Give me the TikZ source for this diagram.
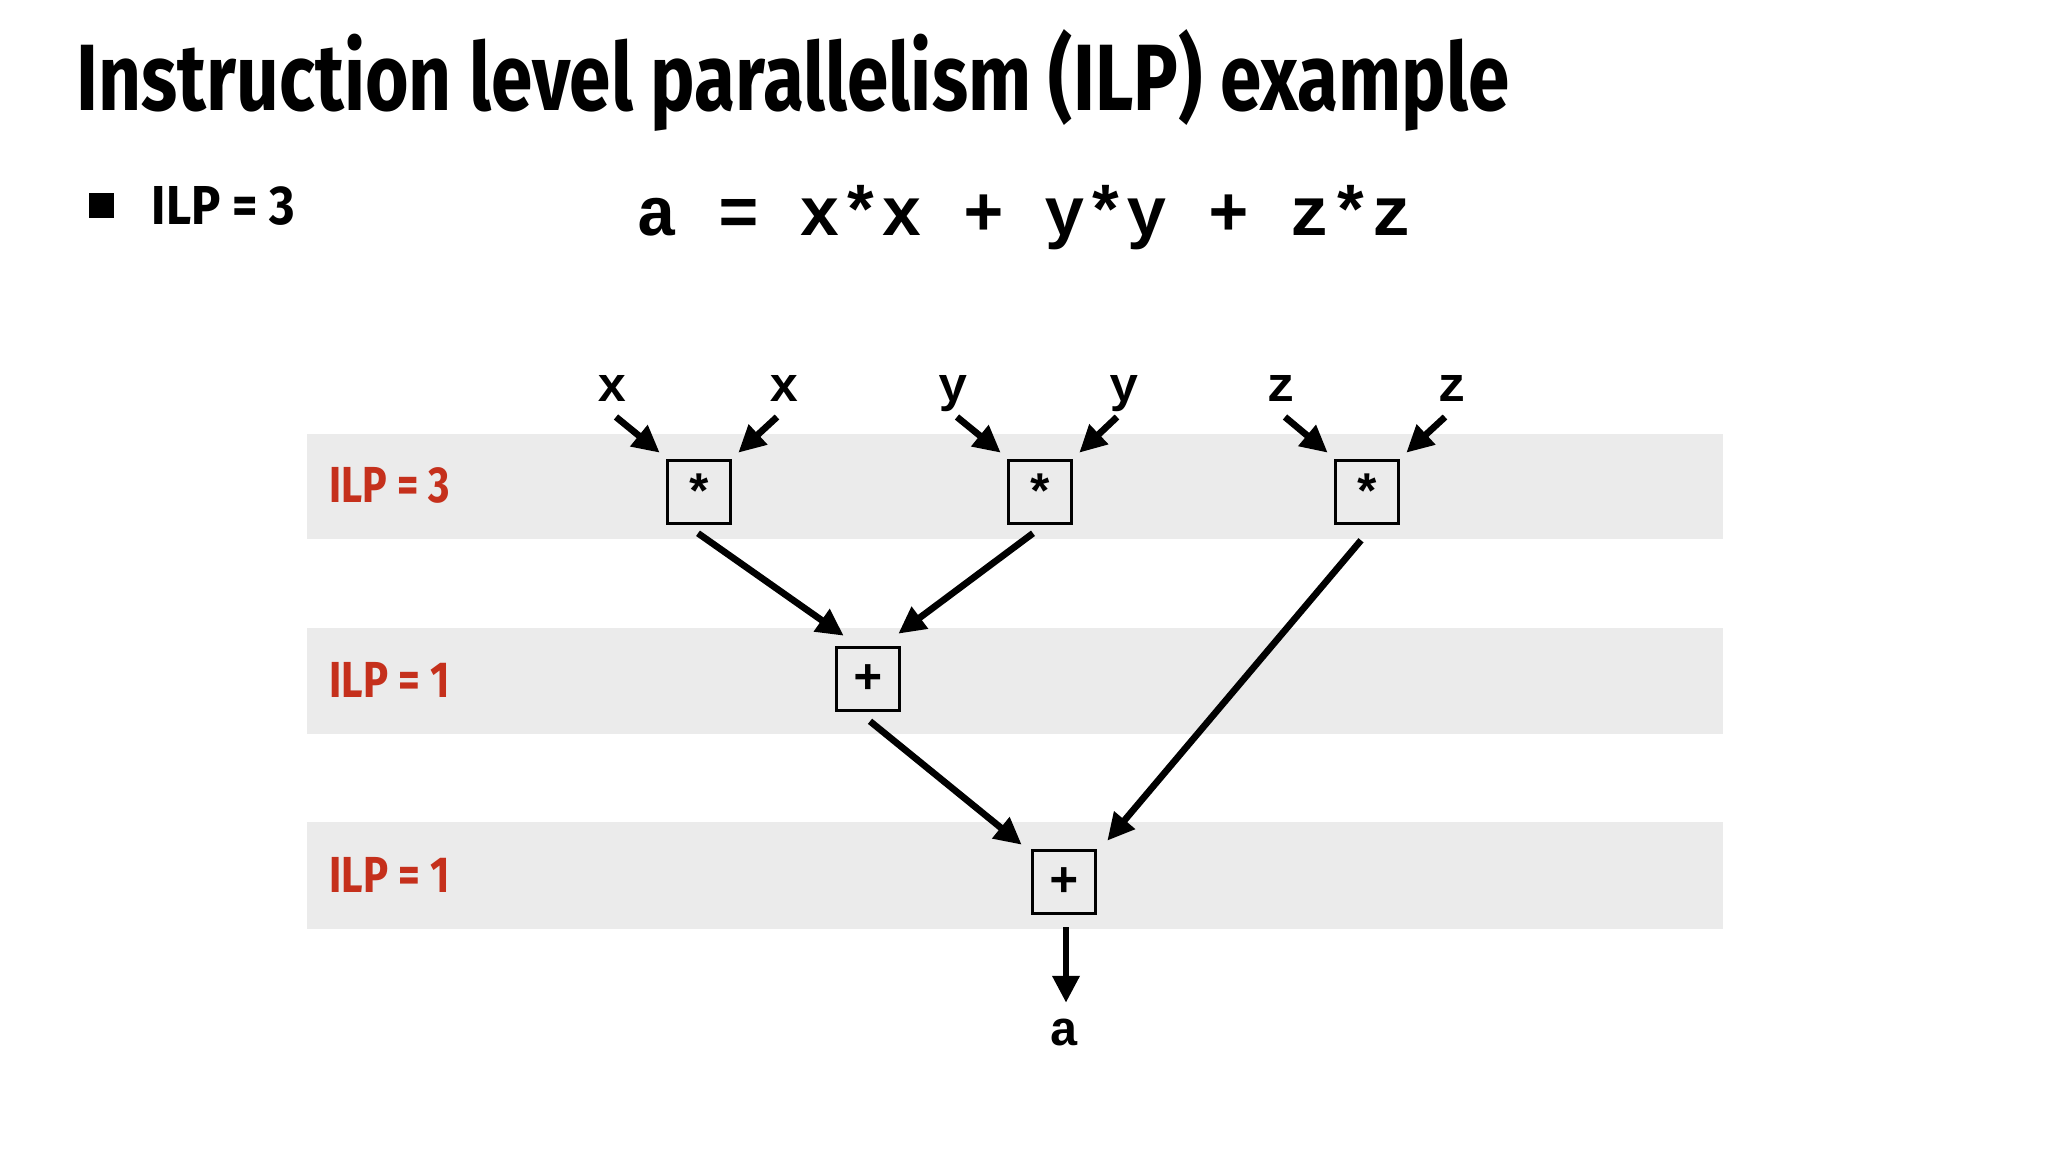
\documentclass[tikz,border=0pt]{standalone}
\usepackage{fontspec}
\usepackage{graphicx}
\usetikzlibrary{arrows.meta,calc}
\newfontfamily\condfont{Fira Sans}
\newfontfamily\monofont{Liberation Mono}
\definecolor{bandgray}{HTML}{EBEBEB}
\definecolor{ilpred}{HTML}{C5301C}
\begin{document}
\begin{tikzpicture}[x=0.01cm,y=-0.01cm,
  opbox/.style={draw=black, line width=1pt, minimum width=0.63cm, minimum height=0.63cm, inner sep=0pt, font=\monofont\bfseries\fontsize{14}{14}\selectfont},
  varlabel/.style={anchor=base, inner sep=0pt, font=\monofont\bfseries\fontsize{14}{14}\selectfont},
  ilplabel/.style={anchor=base west, inner sep=0pt, text=ilpred, font=\condfont\bfseries\fontsize{14.4}{14.4}\selectfont},
  arr/.style={line width=1.9pt, -{Triangle[length=0.27cm,width=0.26cm]}},
]
\useasboundingbox (0,0) rectangle (2048,1152);
\fill[white] (0,0) rectangle (2048,1152);
% bands
\fill[bandgray] (307,434) rectangle (1723,539);
\fill[bandgray] (307,628) rectangle (1723,734);
\fill[bandgray] (307,822) rectangle (1723,929);
% title
\node[anchor=base west, inner sep=0pt, font=\condfont\bfseries\fontsize{26.8}{26.8}\selectfont] (title) at (76,111) {\resizebox{14.32cm}{\height}{Instruction level parallelism (ILP) example}};
% bullet
\node[fill=black, minimum size=0.25cm, inner sep=0pt] (bullet) at (101.5,205.5) {};
\node[anchor=base west, inner sep=0pt, font=\condfont\bfseries\fontsize{15.6}{15.6}\selectfont] (ilp0) at (151,225) {\resizebox{1.43cm}{\height}{ILP = 3}};
% equation
\node[anchor=base west, inner sep=0pt, font=\monofont\bfseries\fontsize{19.7}{20}\selectfont] (eq) at (636,236) {\resizebox{7.75cm}{\height}{a = x*x + y*y + z*z}};
% level labels
\node[ilplabel] (l1) at (329,503) {\resizebox{1.2cm}{\height}{ILP = 3}};
\node[ilplabel] (l2) at (329,697) {\resizebox{1.2cm}{\height}{ILP = 1}};
\node[ilplabel] (l3) at (329,892) {\resizebox{1.2cm}{\height}{ILP = 1}};
% operation boxes
\node[opbox] (m1) at (699,492) {*};
\node[opbox] (m2) at (1040,492) {*};
\node[opbox] (m3) at (1367,492) {*};
\node[opbox] (p1) at (868,679) {+};
\node[opbox] (p2) at (1064,882) {+};
% inputs
\node[varlabel] (x1) at (612,402) {x};
\node[varlabel] (x2) at (784,402) {x};
\node[varlabel] (y1) at (953,402) {y};
\node[varlabel] (y2) at (1124,402) {y};
\node[varlabel] (z1) at (1281,402) {z};
\node[varlabel] (z2) at (1452,402) {z};
\node[varlabel] (out) at (1064,1045) {a};
\coordinate (sx1) at ($(x1.base)+(4,15)$);
\coordinate (sx2) at ($(x2.base)+(-7,15)$);
\coordinate (sy1) at ($(y1.base)+(4,15)$);
\coordinate (sy2) at ($(y2.base)+(-7,15)$);
\coordinate (sz1) at ($(z1.base)+(4,15)$);
\coordinate (sz2) at ($(z2.base)+(-7,15)$);
\draw[arr] (sx1) -- ($(m1.north west)+(-6,-6)$);
\draw[arr] (sx2) -- ($(m1.north east)+(6,-6)$);
\draw[arr] (sy1) -- ($(m2.north west)+(-6,-6)$);
\draw[arr] (sy2) -- ($(m2.north east)+(6,-6)$);
\draw[arr] (sz1) -- ($(m3.north west)+(-6,-6)$);
\draw[arr] (sz2) -- ($(m3.north east)+(6,-6)$);
% internal edges
\draw[arr] ($(m1.south)+(-1,8)$) -- ($(p1.north west)+(9,-10)$);
\draw[arr] ($(m2.south)+(-7,8)$) -- ($(p1.north east)+(-3,-12)$);
\draw[arr] ($(m3.south)+(-6,15)$) -- ($(p2.north east)+(10,-8)$);
\draw[arr] ($(p1.south)+(2,9)$) -- ($(p2.north west)+(-9,-4)$);
\draw[arr] ($(p2.south)+(2,12)$) -- ($(out.north)+(2,-15)$);
\end{tikzpicture}
\end{document}
